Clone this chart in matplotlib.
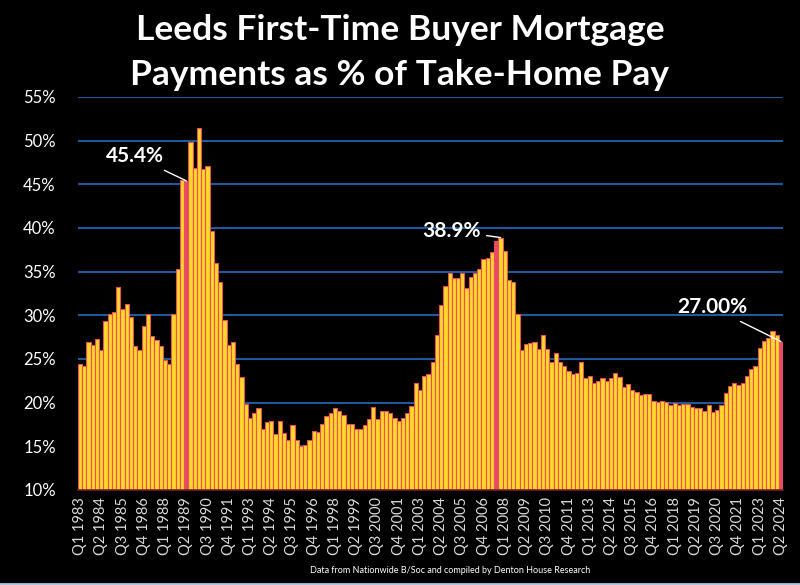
import matplotlib
matplotlib.use("Agg")
import matplotlib.pyplot as plt
import numpy as np

# quarterly series, Q1 1983 .. Q2 2024 (% of take-home pay)
pay_share = [
    24.4, 24.2, 26.9, 26.6, 27.3, 26.0, 29.3, 30.2, 30.4, 33.3,
    30.7, 31.3, 29.8, 26.5, 26.0, 28.8, 30.1, 27.6, 27.2, 26.5,
    24.9, 24.4, 30.1, 35.3, 45.5, 45.4, 49.9, 46.9, 51.5, 46.8,
    47.1, 39.6, 36.0, 33.8, 29.5, 26.6, 27.0, 24.4, 22.9, 19.9,
    18.3, 18.8, 19.4, 17.0, 17.8, 17.9, 16.4, 17.9, 16.5, 15.7,
    17.4, 15.7, 15.0, 15.1, 15.7, 16.8, 16.6, 17.6, 18.5, 18.8,
    19.4, 19.0, 18.6, 17.6, 17.6, 17.0, 17.0, 17.4, 18.1, 19.5,
    18.1, 19.0, 19.0, 18.8, 18.3, 17.9, 18.3, 18.8, 19.6, 22.3,
    21.5, 23.0, 23.3, 24.7, 27.8, 31.2, 33.4, 34.8, 34.3, 34.3,
    34.9, 33.1, 34.4, 34.9, 35.3, 36.5, 36.6, 37.3, 38.5, 38.9,
    37.4, 34.1, 33.8, 30.1, 26.0, 26.7, 26.8, 26.9, 26.2, 27.8,
    26.1, 24.7, 25.7, 24.6, 24.2, 23.6, 23.3, 23.4, 24.6, 22.8,
    23.0, 22.2, 22.5, 22.8, 22.5, 22.8, 23.4, 22.9, 21.8, 22.1,
    21.5, 21.2, 20.9, 21.0, 21.0, 20.2, 20.1, 20.2, 20.1, 19.7,
    20.0, 19.7, 19.9, 19.8, 19.5, 19.4, 19.4, 19.1, 19.7, 18.9,
    19.2, 19.7, 21.1, 21.9, 22.3, 22.0, 22.2, 23.1, 23.9, 24.2,
    26.3, 27.1, 27.4, 28.2, 27.8, 27.0,
]
first_year = 1983
quarters = [f"Q{i % 4 + 1} {first_year + i // 4}" for i in range(len(pay_share))]

red_bars = [25, 98, 165]
callout_bar = [25, 99, 165]
callout_text = ["45.4%", "38.9%", "27.00%"]
yticks = [10, 15, 20, 25, 30, 35, 40, 45, 50, 55]

plt.rcParams["font.family"] = ["Lato", "DejaVu Sans"]

fig = plt.figure(figsize=(8, 5.85), dpi=100, facecolor="black")
ax = fig.add_axes([0.0975, 0.1624, 0.8813, 0.6718])
ax.set_facecolor("black")

x = np.arange(len(pay_share))
colors = ["#e8496a" if i in red_bars else "#ffd62a" for i in x]
ax.bar(x, np.array(pay_share) - 10, bottom=10, width=1.0, color=colors,
       edgecolor="#e9505a", linewidth=0.8, zorder=3)

ax.set_xlim(-0.5, len(pay_share) - 0.5)
ax.set_ylim(10, 55)
ax.set_yticks(yticks)
ax.set_yticklabels([f"{v}%" for v in yticks], color="white", fontsize=12)
ax.yaxis.grid(True, color="#1f5a9c", linewidth=1.5, zorder=0)
ax.tick_params(axis="y", length=0, pad=16)

ax.set_xticks(x[::5])
ax.set_xticklabels(quarters[::5], rotation=90, color="#d9d9d9", fontsize=10.5)
ax.tick_params(axis="x", length=0, pad=5)

for s in ["top", "right", "left"]:
    ax.spines[s].set_visible(False)
ax.spines["bottom"].set_color("#7a2020")
ax.spines["bottom"].set_linewidth(1.2)
ax.spines["bottom"].set_zorder(4)

# callouts
offsets = [(-5.2, 2.8), (-4.6, 0.8), (-7.9, 3.9)]
for b, txt, (dx, dy) in zip(callout_bar, callout_text, offsets):
    y = pay_share[b]
    ax.annotate(txt, xy=(b, y), xytext=(b + dx, y + dy),
                color="white", fontsize=15, fontweight="bold",
                ha="right", va="center", zorder=5,
                arrowprops=dict(arrowstyle="-", color="white", lw=1,
                                shrinkA=2, shrinkB=0))

fig.text(0.5, 0.948, "Leeds First-Time Buyer Mortgage", color="white",
         fontsize=25.5, fontweight="bold", ha="center", va="center")
fig.text(0.5, 0.872, "Payments as % of Take-Home Pay", color="white",
         fontsize=25.5, fontweight="bold", ha="center", va="center")
fig.text(0.5625, 0.024, "Data from Nationwide B/Soc and compiled by Denton House Research",
         color="white", fontsize=6.5, ha="center", va="center")

fig.add_artist(plt.Line2D([0, 1], [0.002, 0.002], color="#a8c8e0", linewidth=2))

plt.savefig("out.png", dpi=100, facecolor="black")
